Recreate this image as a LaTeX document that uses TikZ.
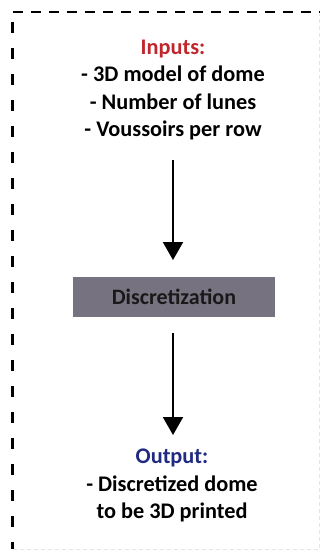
\documentclass[tikz,border=0pt]{standalone}
\usepackage{fontspec}
\setmainfont{Carlito}
\usetikzlibrary{arrows.meta}
\definecolor{inred}{HTML}{C0272D}
\definecolor{outblue}{HTML}{1F2A80}
\definecolor{procgray}{HTML}{77727F}
\begin{document}
\begin{tikzpicture}[x=1pt,y=-1pt,
  txt/.style={font=\fontsize{22.3}{27.5}\selectfont\bfseries, align=center, inner sep=0pt},
  proc/.style={fill=procgray, minimum width=202pt, minimum height=40pt, inner sep=0pt,
    font=\fontsize{22}{24}\selectfont\bfseries, text=black!90},
  flow/.style={line width=2pt, -{Triangle[width=20pt,length=18pt]}},
  topleft/.style={line width=2.4pt, dash pattern=on 10pt off 8pt},
  leftdash/.style={line width=2.8pt, dash pattern=on 11pt off 15pt},
  faint/.style={line width=1pt, black!10, dash pattern=on 4pt off 3pt}]
\useasboundingbox (0,0) rectangle (320,552);
\coordinate (tl) at (12.5,12);
\coordinate (tr) at (320,12);
\coordinate (bl) at (12.5,549);
\coordinate (br) at (319,549);
\coordinate (lt) at (12.5,22);
\draw[topleft] (tl) -- (tr);
\draw[leftdash] (lt) -- (bl);
\draw[faint] (bl) -- (br) -- (319,14);
\node[txt] (in) at (173,90) {\textcolor{inred}{Inputs:}\\- 3D model of dome\\- Number of lunes\\- Voussoirs per row};
\node[proc] (disc) at (174,296.5) {Discretization};
\node[txt] (out) at (172,485.5) {\textcolor{outblue}{Output:}\\- Discretized dome\\to be 3D printed};
\coordinate (a1s) at (173,160);
\coordinate (a1e) at (173,260);
\coordinate (a2s) at (173,333);
\coordinate (a2e) at (173,435);
\draw[flow] (a1s) -- (a1e);
\draw[flow] (a2s) -- (a2e);
\end{tikzpicture}
\end{document}
